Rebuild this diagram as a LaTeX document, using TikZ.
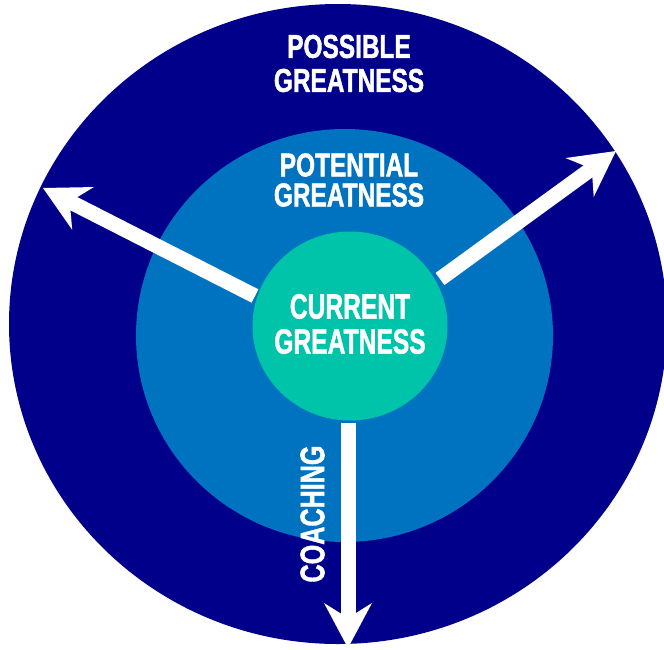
\documentclass[tikz,border=0pt]{standalone}
\usepackage{fontspec}
\setmainfont{Liberation Sans}
\newfontfamily\heavyfont[FakeBold=1.6]{Liberation Sans Bold}
\usetikzlibrary{arrows.meta,shapes.geometric}
\definecolor{navy}{RGB}{0,0,139}
\definecolor{midblue}{RGB}{0,115,192}
\definecolor{tealgreen}{RGB}{0,196,170}
\begin{document}
\begin{tikzpicture}[x=1pt,y=-1pt,
  disc/.style={ellipse, inner sep=0pt, draw=none},
  lbl/.style={text=white, align=center, inner sep=0pt, xscale=0.74},
  arr/.style={draw=white, line width=15pt,
    -{Stealth[length=45pt,width=48pt,inset=15pt,line width=0pt]}}]
\fill[white] (0,0) rectangle (664,649);
\useasboundingbox (0,0) rectangle (664,649);
% rings
\node[disc, fill=navy, minimum width=658pt, minimum height=640pt] (outer) at (338,324) {};
\node[disc, fill=midblue, minimum width=417pt, minimum height=413pt] (mid) at (344.5,335.5) {};
\node[disc, fill=tealgreen, minimum width=195pt, minimum height=189pt] (cur) at (350,326) {};
% labels
\node[lbl, font=\heavyfont\fontsize{33}{34}\selectfont] (possible) at (349,63.5) {POSSIBLE\\GREATNESS};
\node[lbl, font=\heavyfont\fontsize{33}{30}\selectfont] (potential) at (349,180) {POTENTIAL\\GREATNESS};
\node[lbl, xscale=0.95, font=\heavyfont\fontsize{35}{35}\selectfont] (current) at (350,324) {CURRENT\\GREATNESS};
% arrows
\coordinate (sL) at (255,296); \coordinate (tL) at (43,188);
\coordinate (sR) at (440,279); \coordinate (tR) at (616,151);
\coordinate (sB) at (348,423); \coordinate (tB) at (348,648);
\draw[arr] (sL) -- (tL);
\draw[arr] (sR) -- (tR);
\draw[arr] (sB) -- (tB);
\node[text=white, inner sep=0pt, rotate=90, font=\heavyfont\fontsize{34}{34}\selectfont] (coach) at (312.5,514) {\scalebox{0.74}[1]{COACHING}};
\end{tikzpicture}
\end{document}
